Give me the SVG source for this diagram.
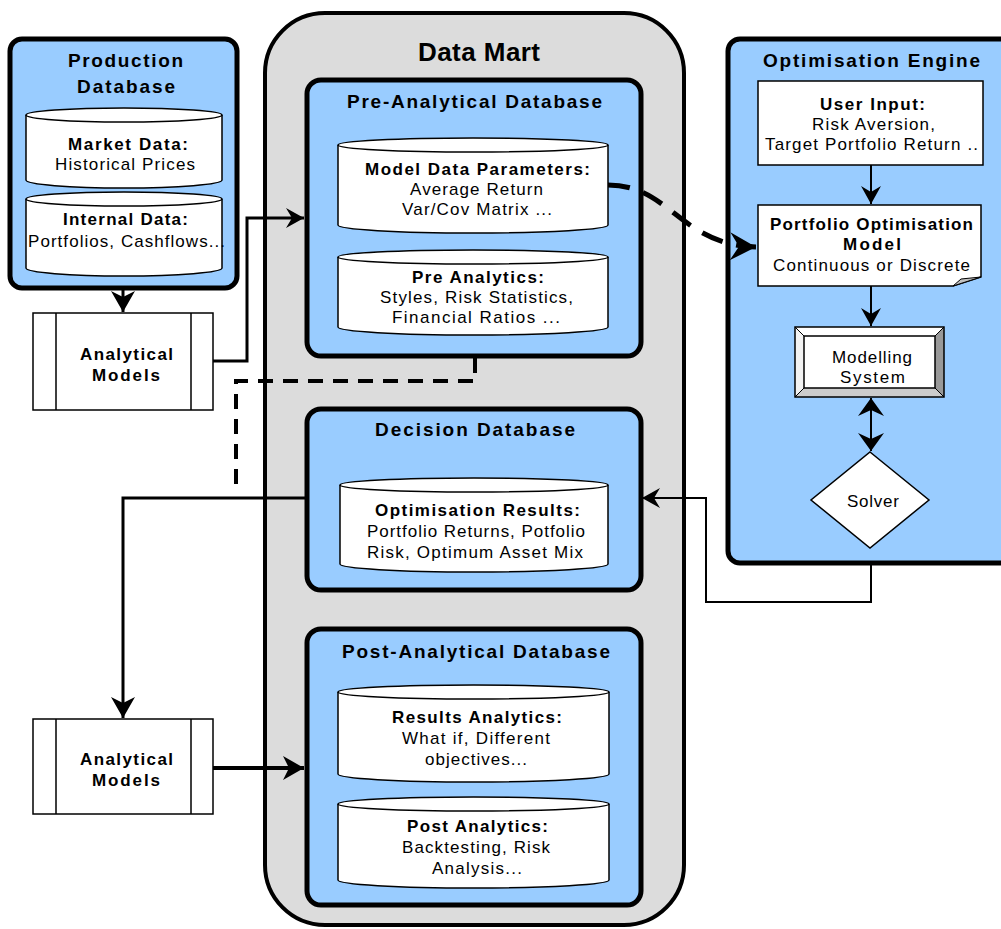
<svg xmlns="http://www.w3.org/2000/svg" width="1001" height="929" viewBox="0 0 1001 929">
<style>
text{font-family:"Liberation Sans",Arial,sans-serif;fill:#000;font-size:17px}
.b{font-weight:bold}
.h{font-weight:bold;font-size:19px}
.dm{font-weight:bold;font-size:26px}
.mart{fill:#dcdcdc;stroke:#000;stroke-width:4}
.db{fill:#99ccff;stroke:#000;stroke-width:5}
.cyl{fill:#fff;stroke:#000;stroke-width:1.5}
.arc{fill:none;stroke:#000;stroke-width:1.5}
.box{fill:#fff;stroke:#000;stroke-width:1.5}
.ln{fill:none;stroke:#000;stroke-linejoin:miter}
.ah{fill:#000;stroke:none}
</style>
<defs>
<marker id="a1" markerUnits="userSpaceOnUse" markerWidth="30" markerHeight="30" viewBox="-25 -15 30 30" refX="0" refY="0" orient="auto-start-reverse" overflow="visible"><path class="ah" d="M0,0 L-21,-12 L-15,0 L-21,12 Z"/></marker>
<marker id="a2" markerUnits="userSpaceOnUse" markerWidth="30" markerHeight="30" viewBox="-25 -15 30 30" refX="0" refY="0" orient="auto-start-reverse" overflow="visible"><path class="ah" d="M0,0 L-18,-10 L-12,0 L-18,10 Z"/></marker>
<marker id="a3" markerUnits="userSpaceOnUse" markerWidth="30" markerHeight="30" viewBox="-25 -15 30 30" refX="0" refY="0" orient="auto-start-reverse" overflow="visible"><path class="ah" d="M0,0 L-18,-13 L-12,0 L-18,13 Z"/></marker>
<marker id="a4" markerUnits="userSpaceOnUse" markerWidth="34" markerHeight="34" viewBox="-30 -17 34 34" refX="0" refY="0" orient="auto" overflow="visible"><path class="ah" d="M0,0 L-26,-14 L-17,0 L-26,14 Z"/></marker>
</defs>

<g id="data-mart">
<rect class="mart" x="265" y="13" width="419" height="912" rx="60"/>
<text class="dm" x="418" y="61" textLength="122" lengthAdjust="spacing">Data Mart</text>
</g>

<g id="production-database">
<rect class="db" x="10" y="39" width="227" height="249" rx="12"/>
<text class="h" x="68" y="67" textLength="115" lengthAdjust="spacing">Production</text>
<text class="h" x="77" y="93" textLength="98" lengthAdjust="spacing">Database</text>
<path class="cyl" d="M26,115 A98,7 0 0 1 222,115 L222,180 A98,8 0 0 1 26,180 Z"/>
<path class="arc" d="M26,115 A98,7 0 0 0 222,115"/>
<text class="b" x="68" y="150" textLength="120" lengthAdjust="spacing">Market Data:</text>
<text x="55" y="170" textLength="140" lengthAdjust="spacing">Historical Prices</text>
<path class="cyl" d="M26,199 A98,7 0 0 1 222,199 L222,268 A98,8 0 0 1 26,268 Z"/>
<path class="arc" d="M26,199 A98,7 0 0 0 222,199"/>
<text class="b" x="63" y="225" textLength="125" lengthAdjust="spacing">Internal Data:</text>
<text x="28" y="247" textLength="197" lengthAdjust="spacing">Portfolios, Cashflows...</text>
</g>

<g id="analytical-models-1">
<rect class="box" x="33" y="313" width="180" height="97"/>
<path class="ln" stroke-width="1.5" d="M56,313 V410 M191,313 V410"/>
<text class="b" x="80" y="360" textLength="93" lengthAdjust="spacing">Analytical</text>
<text class="b" x="92" y="381" textLength="68" lengthAdjust="spacing">Models</text>
</g>

<g id="analytical-models-2">
<rect class="box" x="33" y="719" width="180" height="95"/>
<path class="ln" stroke-width="1.5" d="M56,719 V814 M191,719 V814"/>
<text class="b" x="80" y="765" textLength="93" lengthAdjust="spacing">Analytical</text>
<text class="b" x="92" y="786" textLength="68" lengthAdjust="spacing">Models</text>
</g>

<g id="pre-analytical-database">
<rect class="db" x="307" y="80" width="334" height="276" rx="14"/>
<text class="h" x="347" y="108" textLength="255" lengthAdjust="spacing">Pre-Analytical Database</text>
<path class="cyl" d="M338,145 A135,7 0 0 1 608,145 L608,225 A135,8 0 0 1 338,225 Z"/>
<path class="arc" d="M338,145 A135,7 0 0 0 608,145"/>
<text class="b" x="365" y="175" textLength="225" lengthAdjust="spacing">Model Data Parameters:</text>
<text x="410" y="195" textLength="133" lengthAdjust="spacing">Average Return</text>
<text x="402" y="215" textLength="150" lengthAdjust="spacing">Var/Cov Matrix ...</text>
<path class="cyl" d="M338,257 A135,7 0 0 1 608,257 L608,327 A135,8 0 0 1 338,327 Z"/>
<path class="arc" d="M338,257 A135,7 0 0 0 608,257"/>
<text class="b" x="412" y="283" textLength="132" lengthAdjust="spacing">Pre Analytics:</text>
<text x="380" y="303" textLength="193" lengthAdjust="spacing">Styles, Risk Statistics,</text>
<text x="392" y="323" textLength="168" lengthAdjust="spacing">Financial Ratios ...</text>
</g>

<g id="decision-database">
<rect class="db" x="307" y="409" width="334" height="181" rx="14"/>
<text class="h" x="375" y="436" textLength="200" lengthAdjust="spacing">Decision Database</text>
<path class="cyl" d="M340,485 A134,7 0 0 1 608,485 L608,564 A134,8 0 0 1 340,564 Z"/>
<path class="arc" d="M340,485 A134,7 0 0 0 608,485"/>
<text class="b" x="375" y="516" textLength="205" lengthAdjust="spacing">Optimisation Results:</text>
<text x="367" y="537" textLength="218" lengthAdjust="spacing">Portfolio Returns, Potfolio</text>
<text x="367" y="558" textLength="216" lengthAdjust="spacing">Risk, Optimum Asset Mix</text>
</g>

<g id="post-analytical-database">
<rect class="db" x="307" y="629" width="334" height="276" rx="14"/>
<text class="h" x="342" y="658" textLength="268" lengthAdjust="spacing">Post-Analytical Database</text>
<path class="cyl" d="M338,692 A135,7 0 0 1 609,692 L609,774 A135,8 0 0 1 338,774 Z"/>
<path class="arc" d="M338,692 A135,7 0 0 0 609,692"/>
<text class="b" x="392" y="723" textLength="170" lengthAdjust="spacing">Results Analytics:</text>
<text x="402" y="744" textLength="148" lengthAdjust="spacing">What if, Different</text>
<text x="425" y="765" textLength="102" lengthAdjust="spacing">objectives...</text>
<path class="cyl" d="M338,804 A135,7 0 0 1 609,804 L609,880 A135,8 0 0 1 338,880 Z"/>
<path class="arc" d="M338,804 A135,7 0 0 0 609,804"/>
<text class="b" x="407" y="832" textLength="141" lengthAdjust="spacing">Post Analytics:</text>
<text x="402" y="853" textLength="148" lengthAdjust="spacing">Backtesting, Risk</text>
<text x="432" y="874" textLength="90" lengthAdjust="spacing">Analysis...</text>
</g>

<g id="optimisation-engine">
<rect class="db" x="728" y="39" width="300" height="524" rx="12"/>
<text class="h" x="763" y="67" textLength="217" lengthAdjust="spacing">Optimisation Engine</text>
</g>

<g id="user-input">
<rect class="box" x="758" y="81" width="225" height="84"/>
<text class="b" x="820" y="110" textLength="105" lengthAdjust="spacing">User Input:</text>
<text x="812" y="130" textLength="123" lengthAdjust="spacing">Risk Aversion,</text>
<text x="765" y="150" textLength="213" lengthAdjust="spacing">Target Portfolio Return ..</text>
</g>

<g id="portfolio-optimisation-model">
<path class="box" d="M758,205 H981 V277 L953,286 H758 Z"/>
<path fill="#c0c0c0" stroke="#000" stroke-width="1" d="M953,286 L981,277 L961,279 Z"/>
<text class="b" x="770" y="230" textLength="203" lengthAdjust="spacing">Portfolio Optimisation</text>
<text class="b" x="843" y="250" textLength="58" lengthAdjust="spacing">Model</text>
<text x="773" y="271" textLength="197" lengthAdjust="spacing">Continuous or Discrete</text>
</g>

<g id="modelling-system">
<polygon fill="#fff" points="795,327 944,327 935,336 804,336"/>
<polygon fill="#f2f2f2" points="795,327 804,336 804,388 795,397"/>
<polygon fill="#999" points="944,327 944,397 935,388 935,336"/>
<polygon fill="#ccc" points="795,397 944,397 935,388 804,388"/>
<path class="ln" stroke-width="1" d="M795,327 L804,336 M944,327 L935,336 M795,397 L804,388 M944,397 L935,388"/>
<rect fill="none" stroke="#000" stroke-width="1.5" x="795" y="327" width="149" height="70"/>
<rect class="box" x="804" y="336" width="131" height="52"/>
<text x="832" y="363" textLength="80" lengthAdjust="spacing">Modelling</text>
<text x="840" y="383" textLength="65" lengthAdjust="spacing">System</text>
</g>

<g id="solver">
<polygon class="box" points="870,452 929,500 870,548 811,500"/>
<text x="847" y="507" textLength="52" lengthAdjust="spacing">Solver</text>
</g>

<g id="connectors">
<path class="ln" stroke-width="3" d="M123,288 V312" marker-end="url(#a1)"/>
<path class="ln" stroke-width="3" d="M213,361 H247 V218 H304" marker-end="url(#a2)"/>
<path class="ln" stroke-width="4" stroke-dasharray="15 10" d="M475,358 V381 H236 V490"/>
<path class="ln" stroke-width="5" stroke-dasharray="22 14" d="M608,185 C670,185 680,245 756,247" marker-end="url(#a4)"/>
<path class="ln" stroke-width="2" d="M871,165 V204" marker-end="url(#a2)"/>
<path class="ln" stroke-width="2" d="M871,286 V326" marker-end="url(#a2)"/>
<path class="ln" stroke-width="2" d="M871,398 V451" marker-start="url(#a3)" marker-end="url(#a3)"/>
<path class="ln" stroke-width="2" d="M871,563 V602 H706 V498 H642" marker-end="url(#a2)"/>
<path class="ln" stroke-width="3" d="M307,498 H123 V718" marker-end="url(#a1)"/>
<path class="ln" stroke-width="4" d="M213,768 H304" marker-end="url(#a1)"/>
</g>
</svg>
